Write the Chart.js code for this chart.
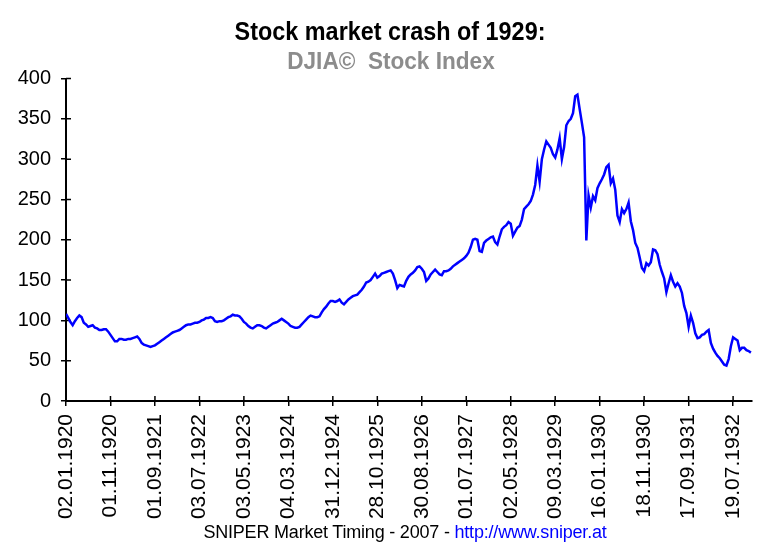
<!DOCTYPE html>
<html>
<head>
<meta charset="utf-8">
<title>Stock market crash of 1929</title>
<script src="https://cdn.jsdelivr.net/npm/chart.js@4.4.1/dist/chart.umd.min.js"></script>
<style>
  html, body { margin: 0; padding: 0; background: #fff; }
  #wrap { position: relative; width: 781px; height: 548px; }
  .caption {
    position: absolute; width: 600px; text-align: center; white-space: pre;
    font-family: "Liberation Sans", Arial, sans-serif; font-weight: bold; line-height: 1;
  }
  .caption span { display: inline-block; transform-origin: center; }
  #title { left: 90px; top: 18px; font-size: 26.5px; color: #000; }
  #title span { transform: scaleX(0.883); }
  #subtitle { left: 91px; top: 49.5px; font-size: 23.3px; color: #8c8c8c; }
  #subtitle span { transform: scaleX(0.97); }
  #footer {
    position: absolute; left: 0; width: 810px; top: 522px;
    text-align: center; font: 18px "Liberation Sans", Arial, sans-serif;
    color: #000; letter-spacing: -0.2px;
  }
  #footer .link { color: #0000ff; }
</style>
</head>
<body>
<div id="wrap">
  <canvas id="djiaChart" width="781" height="548"></canvas>
  <div class="caption" id="title"><span>Stock market crash of 1929:</span></div>
  <div class="caption" id="subtitle"><span>DJIA©  Stock Index</span></div>
  <div id="footer">SNIPER Market Timing - 2007 - <span class="link">http://www.sniper.at</span></div>
</div>
<script>
// tick labels, one every 20 samples
const tickLabels = [
  '02.01.1920', '01.11.1920', '01.09.1921', '03.07.1922', '03.05.1923', '04.03.1924',
  '31.12.1924', '28.10.1925', '30.08.1926', '01.07.1927', '02.05.1928', '09.03.1929',
  '16.01.1930', '18.11.1930', '17.09.1931', '19.07.1932',
];
const tickStep = 20;

// DJIA closes (about two weeks apart)
const djiaValues = [
  108, 103, 98, 94, 99, 103, 106, 104, 97, 95, 92, 93, 94, 91, 90, 88, 88, 89, 89, 86,
  82, 78, 74, 74, 77, 77, 76, 76, 77, 77, 78, 79, 80, 77, 72, 70, 69, 68, 67, 68,
  69, 71, 73, 75, 77, 79, 81, 83, 85, 86, 87, 88, 90, 92, 94, 95, 95, 96, 97, 97,
  98, 100, 101, 103, 103, 104, 103, 99, 98, 99, 99, 100, 102, 104, 105, 107, 106, 106, 105, 102,
  98, 96, 93, 91, 90, 92, 94, 94, 93, 91, 90, 92, 94, 96, 97, 98, 100, 102, 100, 98,
  96, 93, 92, 91, 91, 92, 95, 98, 101, 104, 106, 105, 104, 104, 105, 110, 114, 117, 121, 124,
  124, 123, 124, 126, 122, 120, 123, 126, 128, 130, 131, 132, 135, 138, 142, 147, 148, 150, 154, 158,
  153, 155, 158, 159, 160, 161, 162, 158, 150, 140, 144, 143, 142, 149, 154, 157, 159, 162, 166, 167,
  164, 160, 149, 152, 157, 160, 163, 160, 157, 156, 161, 161, 162, 164, 167, 169, 171, 173, 175, 177,
  180, 184, 191, 200, 201, 200, 186, 185, 196, 199, 201, 203, 204, 197, 194, 204, 213, 216, 218, 222,
  220, 205, 210, 215, 217, 225, 238, 241, 244, 248, 256, 268, 292, 272, 300, 312, 322, 318, 314, 306,
  302, 312, 326, 300, 315, 342, 347, 350, 357, 378, 380, 362, 345, 327, 199, 255, 240, 254, 249, 264,
  270, 275, 281, 290, 293, 270, 276, 262, 230, 222, 238, 233, 238, 246, 223, 212, 196, 190, 178, 165,
  161, 171, 168, 172, 188, 187, 182, 169, 160, 152, 135, 146, 156, 148, 142, 146, 142, 134, 118, 109,
  92, 106, 97, 84, 78, 79, 82, 83, 86, 88, 72, 65, 60, 56, 53, 49, 45, 44, 52, 68,
  79, 77, 75, 63, 66, 66, 63, 62, 60,
];

const fontFamily = '"Liberation Sans", Arial, sans-serif';

// half tick marks inside the plot, so each tick crosses its axis
const innerTicks = {
  id: 'innerTicks',
  beforeDatasetsDraw(chart) {
    const { ctx, chartArea, scales } = chart;
    ctx.save();
    ctx.strokeStyle = '#000';
    ctx.lineWidth = 1.5;
    ctx.beginPath();
    scales.y.ticks.forEach((t) => {
      const py = scales.y.getPixelForValue(t.value);
      ctx.moveTo(chartArea.left, py);
      ctx.lineTo(chartArea.left + 5, py);
    });
    scales.x.ticks.forEach((t) => {
      const px = scales.x.getPixelForValue(t.value);
      ctx.moveTo(px, chartArea.bottom);
      ctx.lineTo(px, chartArea.bottom - 5);
    });
    ctx.stroke();
    ctx.restore();
  },
};

new Chart(document.getElementById('djiaChart'), {
  type: 'line',
  data: {
    datasets: [{
      label: 'DJIA',
      data: djiaValues.map((v, i) => ({ x: i, y: v })),
      borderColor: '#0000ff',
      borderWidth: 2.5,
      pointRadius: 0,
      tension: 0,
      fill: false,
    }],
  },
  options: {
    responsive: false,
    animation: false,
    layout: { padding: { top: 78.5, right: 29, left: 4, bottom: 27 } },
    plugins: {
      legend: { display: false },
      tooltip: { enabled: false },
    },
    scales: {
      x: {
        type: 'linear',
        min: 0,
        max: 308.5,
        afterBuildTicks: (scale) => {
          scale.ticks = tickLabels.map((_, i) => ({ value: i * tickStep }));
        },
        afterFit: (scale) => { scale.height = 120; },
        ticks: {
          autoSkip: false,
          maxRotation: 90,
          minRotation: 90,
          padding: 8,
          color: '#000',
          font: { family: fontFamily, size: 21 },
          callback: (value, index) => tickLabels[index] ?? '',
        },
        grid: { drawOnChartArea: false, color: '#000', lineWidth: 1.5, tickLength: 5 },
        border: { color: '#000', width: 2 },
      },
      y: {
        min: 0,
        max: 400,
        afterFit: (scale) => { scale.width = 62; },
        ticks: {
          stepSize: 50,
          padding: 10,
          color: '#000',
          font: { family: fontFamily, size: 20 },
        },
        grid: { drawOnChartArea: false, color: '#000', lineWidth: 1.5, tickLength: 5 },
        border: { color: '#000', width: 2 },
      },
    },
  },
  plugins: [innerTicks],
});
</script>
</body>
</html>
